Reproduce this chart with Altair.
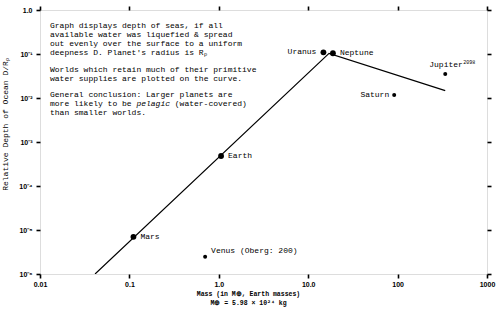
import altair as alt
import pandas as pd

# ---- data ----
planets = ["Mars", "Venus (Oberg: 200)", "Earth", "Uranus", "Neptune", "Saturn", "Jupiter"]
mass = [0.111, 0.703, 1.06, 14.8, 18.9, 91.6, 341]
depth = [7.0e-6, 2.47e-6, 4.8e-4, 0.109, 0.104, 0.0117, 0.0351]
on_curve = [True, False, True, True, True, False, False]
jupiter_note = "2098"

curve_mass = [0.0413, 17.1, 341]
curve_depth = [1e-6, 0.103, 0.0147]

x_ticks = [0.01, 0.1, 1, 10, 100, 1000]
y_ticks = [1e-6, 1e-5, 1e-4, 1e-3, 1e-2, 1e-1, 1]

note1 = ["Graph displays depth of seas, if all",
         "available water was liquefied & spread",
         "out evenly over the surface to a uniform",
         "deepness D. Planet's radius is Rₚ"]
note2 = ["Worlds which retain much of their primitive",
         "water supplies are plotted on the curve."]
note3a = "General conclusion: Larger planets are"
note3b = ["more likely to be", "pelagic", "(water-covered)"]
note3c = "than smaller worlds."

x_title = ["Mass (in M⊕, Earth masses)", "M⊕ = 5.98 × 10²⁴ kg"]
y_title = "Relative Depth of Ocean D/Rₚ"

df = pd.DataFrame({"planet": planets, "mass": mass, "depth": depth, "curve": on_curve})
curve = pd.DataFrame({"mass": curve_mass, "depth": curve_depth})

MONO = "Liberation Mono"
SANS = "Liberation Sans"
CW = 4.8  # character advance of 8px Liberation Mono

xscale = alt.Scale(type="log", domain=[0.01, 1000], nice=False)
yscale = alt.Scale(type="log", domain=[1e-6, 1], nice=False)

tick_style = dict(grid=False, domain=False, ticks=True, tickSize=4, tickWidth=1.6,
                  tickColor="#000000", tickOpacity=1)

x_axis = alt.Axis(values=x_ticks, **tick_style, labelFont=SANS, labelFontWeight="bold", labelFontSize=7,
                  labelColor="black", labelPadding=2, labelFlush=False, labelOverlap=False,
                  labelExpr="datum.value >= 100 ? format(datum.value, 'd') : (datum.value >= 1 ? format(datum.value, '.1f') : '' + datum.value)",
                  title=x_title, titleFont=MONO, titleFontSize=6.5, titleFontWeight="bold",
                  titleColor="black", titleLineHeight=9, titleX=208, titleY=16,
                  titleBaseline="top", titleAnchor="middle")
y_axis = alt.Axis(values=y_ticks, **tick_style, labelFont=SANS, labelFontWeight="bold", labelFontSize=7,
                  labelColor="black", labelPadding=4, labelFlush=False, labelOverlap=False,
                  labelExpr="datum.value >= 1 ? '1.0' : '10⁻' + ['', '¹', '²', '³', '⁴', '⁵', '⁶'][round(-log(datum.value) / LN10)]",
                  title=y_title, titleFont=MONO, titleFontSize=8, titleFontWeight="normal",
                  titleColor="black", titleX=-35, titleY=114, titleAngle=-90,
                  titleBaseline="middle", titleAnchor="middle")

X = alt.X("mass:Q", scale=xscale, axis=x_axis)
Y = alt.Y("depth:Q", scale=yscale, axis=y_axis)

line = alt.Chart(curve).mark_line(color="black", strokeWidth=1.2, clip=True).encode(x=X, y=Y)

# top / right mirror axes (ticks only)
x_top = alt.X("mass:Q", scale=xscale, axis=alt.Axis(orient="top", values=x_ticks, labels=False, title=None, **tick_style))
y_right = alt.Y("depth:Q", scale=yscale, axis=alt.Axis(orient="right", values=y_ticks, labels=False, title=None, **tick_style))
mirror = alt.Chart(curve).mark_point(opacity=0).encode(x=x_top, y=y_right)

pts = alt.Chart(df).encode(x=alt.X("mass:Q", scale=xscale, axis=None),
                           y=alt.Y("depth:Q", scale=yscale, axis=None))
big = pts.transform_filter("datum.curve").mark_circle(color="black", size=34, opacity=1)
small = pts.transform_filter("!datum.curve").mark_circle(color="black", size=16, opacity=1)

def lab(names, text="planet:N", size=8, **kw):
    flt = alt.FieldOneOfPredicate(field="planet", oneOf=names)
    return pts.transform_filter(flt).mark_text(font=MONO, fontSize=size, color="black",
                                               baseline="middle", **kw).encode(text=text)

labels = [
    lab(["Mars", "Earth", "Neptune"], align="left", dx=7),
    lab(["Uranus"], align="right", dx=-7),
    lab(["Saturn"], align="right", dx=-5),
    lab(["Venus (Oberg: 200)"], align="left", dx=6, dy=-6),
    lab(["Jupiter"], align="left", dx=-16, dy=-9),
    lab(["Jupiter"], text=alt.value(jupiter_note), size=5, align="left", dx=-16 + 7 * CW + 0.5, dy=-12),
]

def note(text, x, y, **kw):
    return alt.Chart(pd.DataFrame({"t": [text]})).mark_text(
        font=MONO, fontSize=8, color="black", align="left", baseline="top",
        lineBreak="\n", lineHeight=9, **kw).encode(
        x=alt.value(x), y=alt.value(y), text="t:N")

notes = [
    note("\n".join(note1), 10, 12),
    note("\n".join(note2), 10, 56),
    note(note3a, 10, 81),
    note(note3b[0], 10, 90),
    note(note3b[1], 10 + 18 * CW, 90, fontStyle="italic"),
    note(note3b[2], 10 + 26 * CW, 90),
    note(note3c, 10, 99),
]

chart = alt.layer(line, mirror, big, small, *labels, *notes).resolve_axis(
    x="independent", y="independent"
).properties(
    width=447, height=264,
    padding={"left": 40, "top": 10, "right": 13, "bottom": 40},
    autosize=alt.AutoSizeParams(type="none"),
).configure_view(stroke="black", strokeWidth=1.5).configure(background="white")

chart.save("out.html", embed_options={"renderer": "svg", "actions": False})
